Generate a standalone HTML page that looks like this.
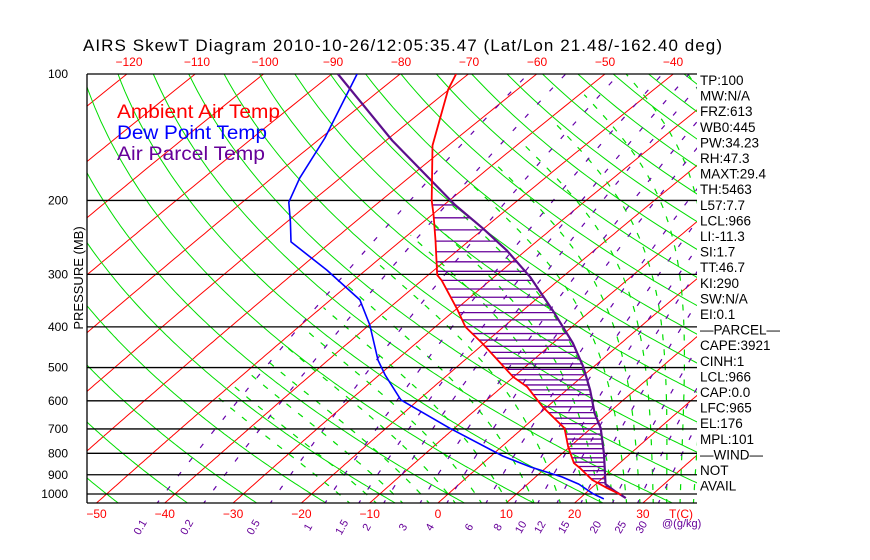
<!DOCTYPE html>
<html><head><meta charset="utf-8"><style>
html,body{margin:0;padding:0;background:#fff;}
svg{display:block;font-family:"Liberation Sans",sans-serif;}
</style></head><body>
<svg id="chart" width="870" height="560" viewBox="0 0 870 560" xmlns="http://www.w3.org/2000/svg">
<rect x="0" y="0" width="870" height="560" fill="#fff"/>
<defs><clipPath id="plotclip"><rect x="87" y="74" width="610" height="429"/></clipPath></defs>
<text x="83" y="51" font-size="17" fill="#000" textLength="639" lengthAdjust="spacing">AIRS SkewT Diagram 2010-10-26/12:05:35.47 (Lat/Lon 21.48/-162.40 deg)</text>
<g id="bg" clip-path="url(#plotclip)"></g>
<g id="pl"></g>
<g id="prof" clip-path="url(#plotclip)"></g>
<g id="labels"></g>
<text x="117" y="118" font-size="19" fill="#ff0000" textLength="163" lengthAdjust="spacingAndGlyphs">Ambient Air Temp</text>
<text x="117" y="139" font-size="19" fill="#0000ff" textLength="150" lengthAdjust="spacingAndGlyphs">Dew Point Temp</text>
<text x="117" y="160" font-size="19" fill="#660099" textLength="148" lengthAdjust="spacingAndGlyphs">Air Parcel Temp</text>
<text transform="translate(83,278) rotate(-90)" text-anchor="middle" font-size="13" fill="#000">PRESSURE (MB)</text>
<g id="stats" font-size="13.5" fill="#000"></g>
</svg>
<script>
// data
const pressureTicks = [100,200,300,400,500,600,700,800,900,1000];
const bottomTempTicks = [-50,-40,-30,-20,-10,0,10,20,30];
const topTempTicks = [-120,-110,-100,-90,-80,-70,-60,-50,-40];
const mixingRatios = [0.1,0.2,0.5,1,1.5,2,3,4,6,8,10,12,15,20,25,30];
const mixingLabels = ["0.1","0.2","0.5","1","1.5","2","3","4","6","8","10","12","15","20","25","30"];
const moistStartT = [-16,-12,-8,-4,0,4,8,12,16,20,22,24,26,28,30,32,34,36,38,40];
const tempP = [100,109,148,200,217,249,301,310,365,400,437,526,556,621,697,773,844,867,926,968,1005];
const tempT = [-71.8,-70.1,-62.3,-52.6,-49.7,-45.0,-38.7,-37.1,-29.6,-25.6,-20.4,-10.1,-6.3,-0.6,6.1,9.8,13.3,15.0,18.8,22.3,25.5];
const parcelP = [100,144,205,233,263,304,365,437,498,565,642,697,803,947,984,1023];
const parcelT = [-89.1,-69.1,-48.4,-40.2,-32.8,-24.8,-15.7,-7.1,-1.5,3.4,8.0,11.4,16.2,21.4,23.9,26.7];
const dewP = [100,142,177,202,225,251,293,345,396,480,521,597,697,812,863,911,947,999,1027];
const dewT = [-86.3,-79.4,-75.9,-73.2,-69.5,-65.9,-55.7,-45.7,-39.9,-32.7,-29.1,-22.6,-10.7,1.7,7.7,13.9,17.5,21.2,23.6];
const hatchP = [205,220,235,250,265,280,295,310,325,340,355,370,385,400,415,430,445,460,475,490,505,520,535,550,565,580,600,620,640,660,680,700,720,740,760,780,800,820,840,860,880,900,920,940,960,975];
const statLines = ["TP:100","MW:N/A","FRZ:613","WB0:445","PW:34.23","RH:47.3","MAXT:29.4","TH:5463","L57:7.7","LCL:966","LI:-11.3","SI:1.7","TT:46.7","KI:290","SW:N/A","EI:0.1","\u2014PARCEL\u2014","CAPE:3921","CINH:1","LCL:966","CAP:0.0","LFC:965","EL:176","MPL:101","\u2014WIND\u2014","NOT","AVAIL"];

const NS="http://www.w3.org/2000/svg";
function yP(p){return 74+182.4*Math.log(p/100);}
function xT(T,p){const h=503-yP(p);return 438+6.83*T+1.122*h+1.476e-4*h*h;}
function mk(tag,attrs,parent){const e=document.createElementNS(NS,tag);for(const k in attrs)e.setAttribute(k,attrs[k]);parent.appendChild(e);return e;}
function pathFrom(pts){return pts.map((q,i)=>(i?'L':'M')+q[0].toFixed(1)+' '+q[1].toFixed(1)).join(' ');}
const bg=document.getElementById('bg');
const pl=document.getElementById('pl');
const prof=document.getElementById('prof');
const labels=document.getElementById('labels');
const stats=document.getElementById('stats');
const plevs=[];for(let p=1060;p>=95;p-=5)plevs.push(p);

// isotherms
for(let T=-170;T<=50;T+=10){
  const pts=plevs.map(p=>[xT(T,p),yP(p)]);
  const el=mk('path',{d:pathFrom(pts),stroke:'#ff0000','stroke-width':1,fill:'none'},bg);
  
  
}
// dry adiabats
for(let th=-90;th<=220;th+=10){
  const pts=plevs.map(p=>[xT((th+273.15)*Math.pow(p/1000,0.2857)-273.15,p),yP(p)]);
  const el=mk('path',{d:pathFrom(pts),stroke:'#00dd00','stroke-width':1,fill:'none'},bg);
  
  
}
// moist adiabats (drawn where T >= -50C)
function es(Tc){return 6.112*Math.exp(17.67*Tc/(Tc+243.5));}
function moistRate(Tk,p){const Tc=Tk-273.15;const e=es(Tc);const rs=0.622*e/(p-e);const Lv=2.5e6,Rd=287,cp=1005;
  return (Rd*Tk+Lv*rs)/(p*(cp+Lv*Lv*rs*0.622/(Rd*Tk*Tk)));}
moistStartT.forEach(T0=>{
  let pts=[];let Tk=T0+273.15;
  for(let p=1000;p>=100;p-=2){if(Tk-273.15>=-50)pts.push([xT(Tk-273.15,p),yP(p)]);Tk-=moistRate(Tk,p)*2;}
  let Td=T0+273.15;const down=[];
  for(let p=1000;p<=1060;p+=2){Td+=moistRate(Td,p)*2;down.push([xT(Td-273.15,p+2),yP(p+2)]);}
  pts=down.reverse().concat(pts);
  const el=mk('path',{d:pathFrom(pts),stroke:'#00dd00','stroke-width':1.2,fill:'none','stroke-dasharray':'6 9'},bg);
  
  
});
// mixing ratio lines
function tdFromW(w,p){const e=w*p/(622+w);const l=Math.log(e/6.112);return 243.5*l/(17.67-l);}
mixingRatios.forEach((w,i)=>{
  const pts=plevs.map(p=>[xT(tdFromW(w,p),p),yP(p)]);
  const el=mk('path',{d:pathFrom(pts),stroke:'#6600aa','stroke-width':1.2,fill:'none','stroke-dasharray':'5 13'},bg);
  
  
  const x=xT(tdFromW(w,1050),1050)-14;
  const t=mk('text',{transform:`translate(${x.toFixed(1)},529) rotate(-60)`,'font-size':11,fill:'#660099','text-anchor':'middle'},labels);
  t.textContent=mixingLabels[i];
  
  
});
{const t=mk('text',{x:662,y:527,'font-size':11,fill:'#660099'},labels);t.textContent='@(g/kg)';

}

// pressure lines and border
pressureTicks.forEach(p=>{
  const y=yP(p);
  const ln=mk('line',{x1:87,x2:697,y1:y,y2:y,stroke:'#000','stroke-width':1.3},pl);
  
  
  const t=mk('text',{x:68,y:y+4,'font-size':12,fill:'#000','text-anchor':'end'},labels);
  t.textContent=String(p);
  
  
});
{const b=mk('line',{x1:87,x2:697,y1:503,y2:503,stroke:'#000','stroke-width':1.3},pl);


const l=mk('line',{x1:87,x2:87,y1:74,y2:503,stroke:'#000','stroke-width':1.3},pl);

}

bottomTempTicks.forEach(T=>{
  const t=mk('text',{x:438+6.83*T,y:518,'font-size':12,fill:'#ff0000','text-anchor':'middle'},labels);
  t.textContent=T<0?'\u2212'+(-T):String(T);
  
  
});
{const t=mk('text',{x:681,y:518,'font-size':12,fill:'#ff0000','text-anchor':'middle'},labels);t.textContent='T(C)';

}
topTempTicks.forEach(T=>{
  const t=mk('text',{x:945+6.8*T,y:66,'font-size':12,fill:'#ff0000','text-anchor':'middle'},labels);
  t.textContent='\u2212'+(-T);
  
  
});

// profiles
function interp(P,T,p){
  for(let i=0;i<P.length-1;i++){if(p>=P[i]&&p<=P[i+1]){const f=(Math.log(p)-Math.log(P[i]))/(Math.log(P[i+1])-Math.log(P[i]));return T[i]+f*(T[i+1]-T[i]);}}
  return null;
}
hatchP.forEach(p=>{
  const a=interp(tempP,tempT,p),b=interp(parcelP,parcelT,p);
  if(a===null||b===null)return;
  const xa=xT(a,p),xb=xT(b,p);
  if(xb<=xa)return;
  const ln=mk('line',{x1:xa,x2:xb,y1:yP(p),y2:yP(p),stroke:'#660099','stroke-width':1.3},prof);
  
  
});
function curve(P,T,color,w,name){
  const el=mk('path',{d:pathFrom(P.map((p,i)=>[xT(T[i],p),yP(p)])),stroke:color,'stroke-width':w,fill:'none','stroke-linejoin':'round'},prof);
  
  
}
curve(dewP,dewT,'#0000ff',1.6,'dew-point-line');
curve(parcelP,parcelT,'#5c0f8c',2.2,'parcel-temp-line');
curve(tempP,tempT,'#ff0000',1.8,'ambient-temp-line');

statLines.forEach((s,i)=>{
  const t=mk('text',{x:700,y:85+15.6*i},stats);
  t.textContent=s;
  
  
});
</script>
</body></html>
